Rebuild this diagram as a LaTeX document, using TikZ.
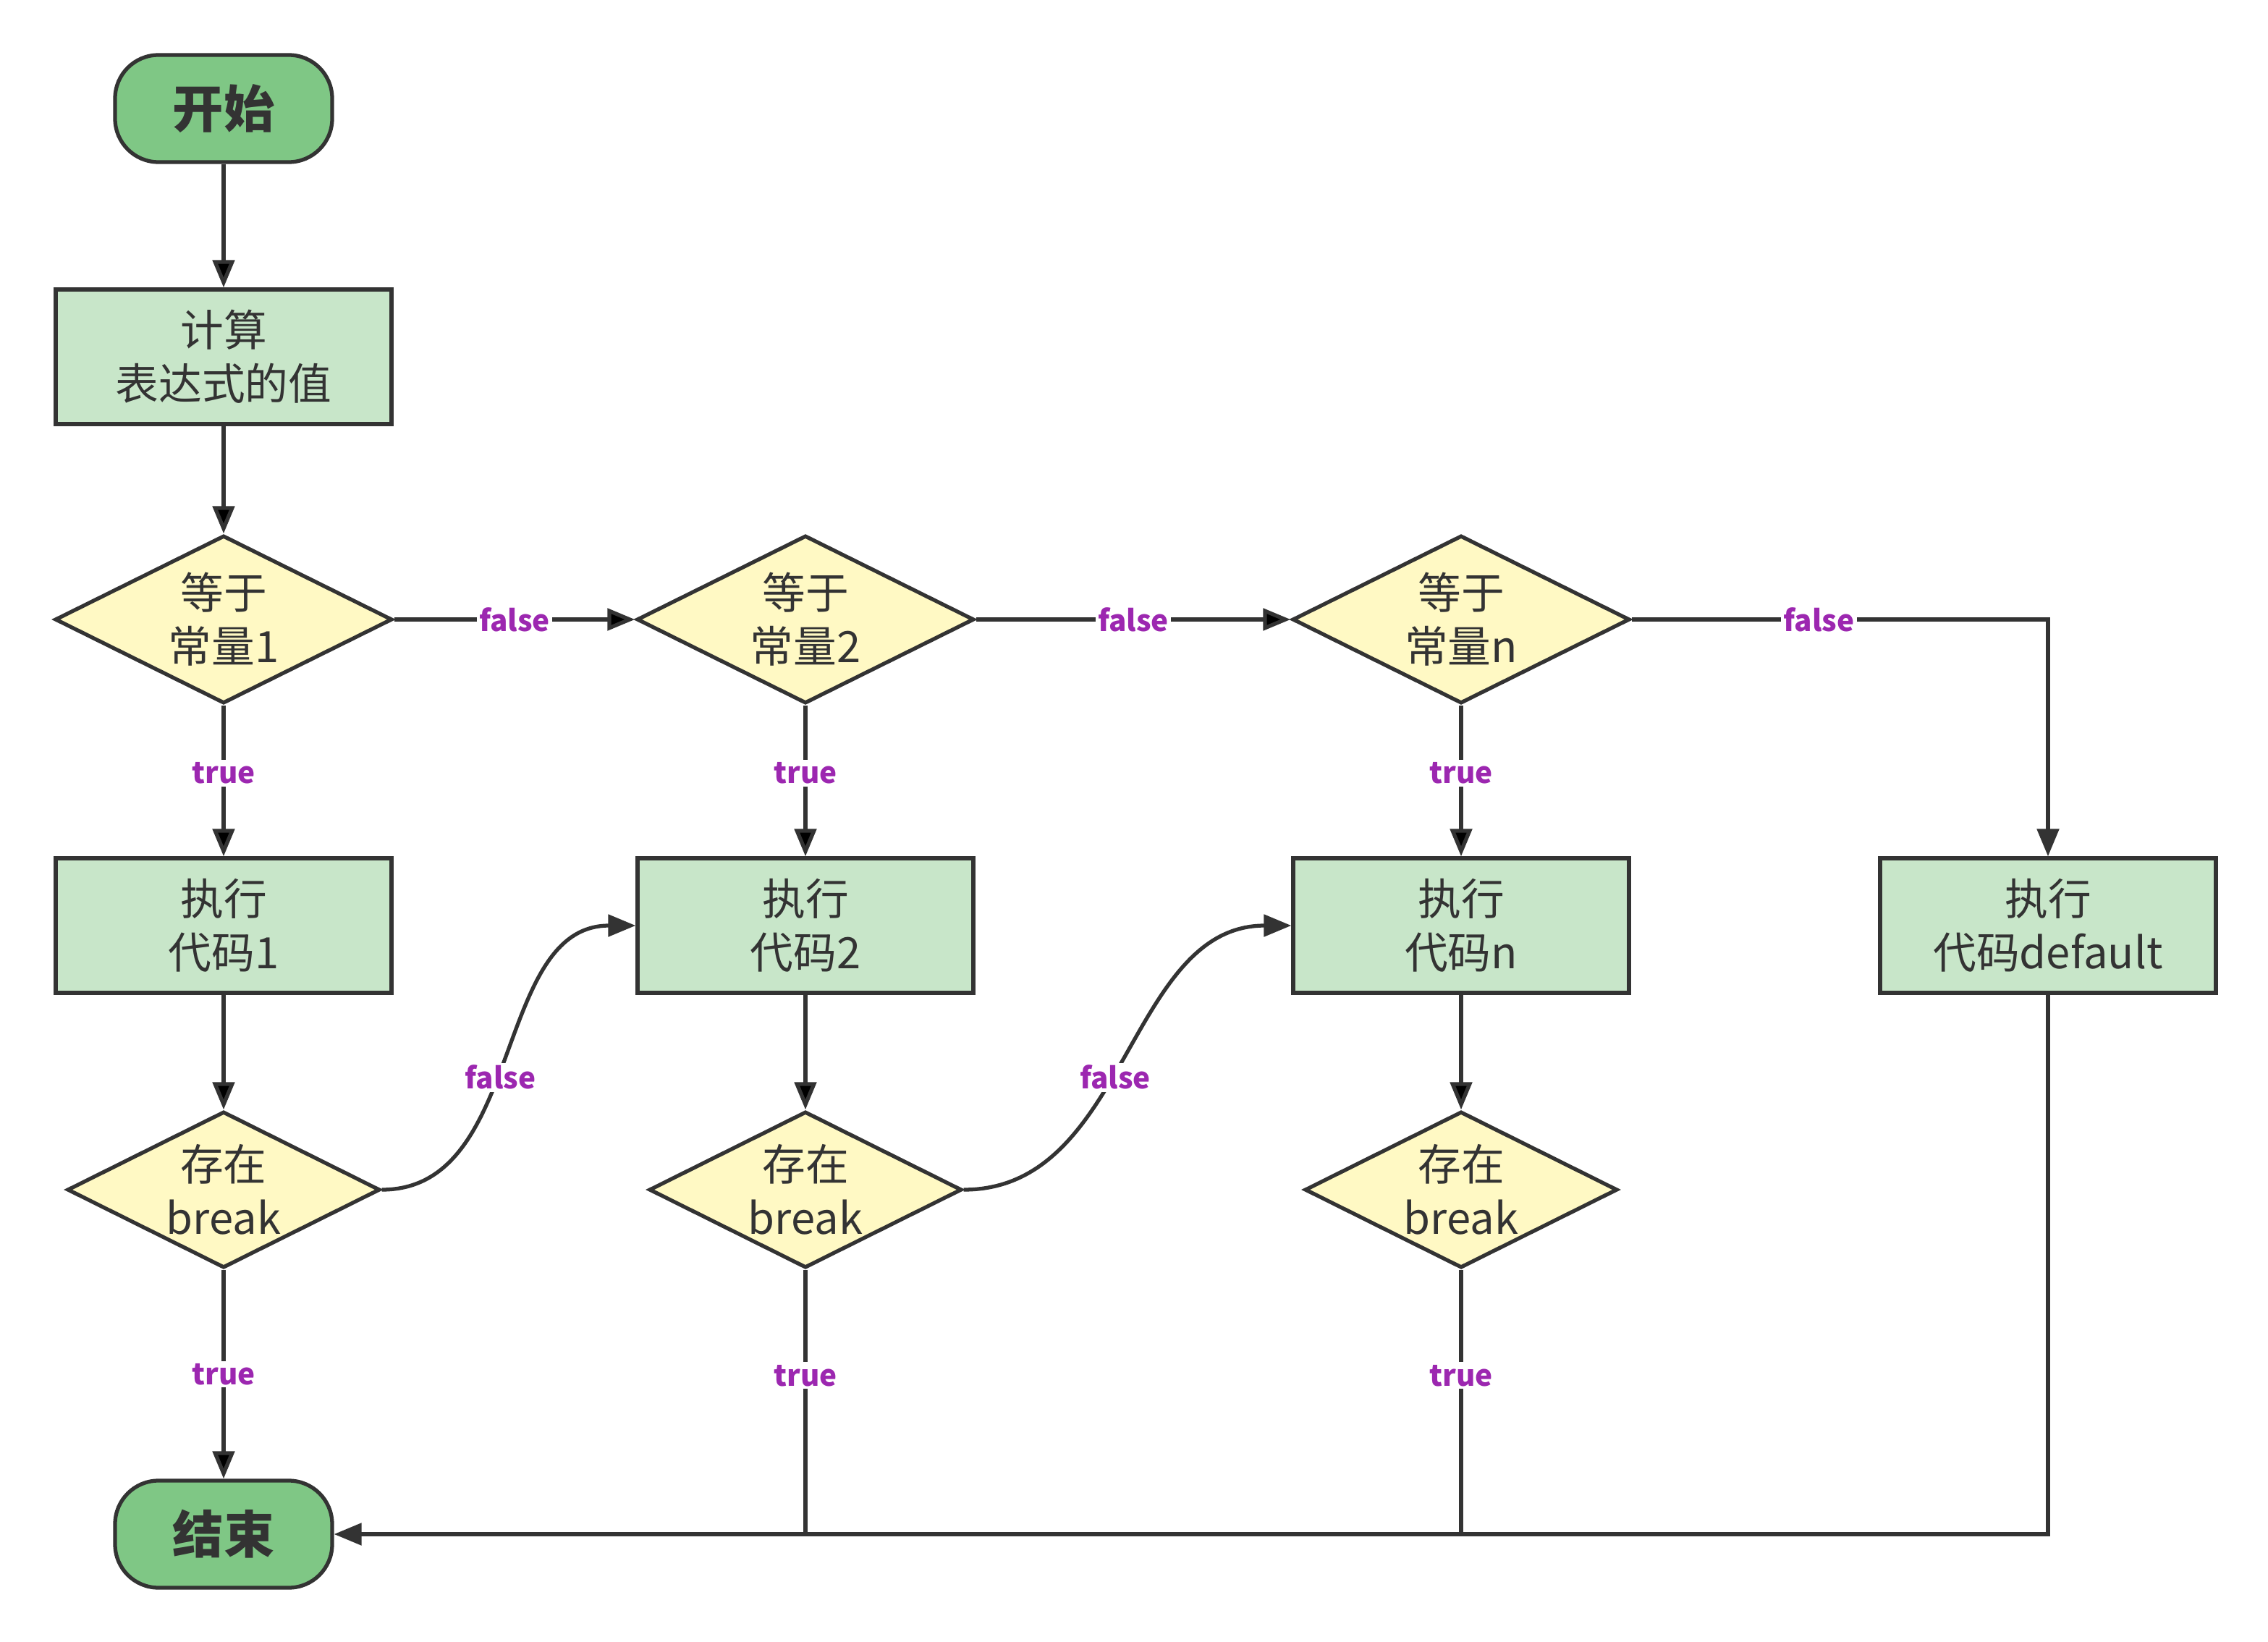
\documentclass[tikz,border=0pt]{standalone}
\usepackage{fontspec}
\setmainfont{Noto Sans CJK SC}
\usetikzlibrary{shapes.geometric,arrows.meta}
\definecolor{linegray}{HTML}{333333}
\definecolor{startgreen}{HTML}{7FC785}
\definecolor{procgreen}{HTML}{C8E6C9}
\definecolor{decyellow}{HTML}{FFF9C4}
\definecolor{lblpurple}{HTML}{9C27B0}
\tikzset{
	every node/.style={text=linegray},
	startstop/.style={draw=linegray,line width=1.5pt,fill=startgreen,rounded corners=0.6cm,minimum width=3cm,minimum height=1.48cm,font=\fontsize{20}{24}\selectfont\bfseries},
	process/.style={draw=linegray,line width=1.5pt,fill=procgreen,minimum width=4.64cm,minimum height=1.86cm,align=center,font=\fontsize{17}{21}\selectfont},
	decision/.style={diamond,aspect=2,draw=linegray,line width=1.5pt,fill=decyellow,inner sep=0pt,minimum width=4.66cm,minimum height=2.32cm,align=center,font=\fontsize{17}{21}\selectfont},
	hasbreak/.style={decision,minimum width=4.32cm,minimum height=2.16cm},
	lbl/.style={fill=white,text=lblpurple,inner sep=1pt,font=\fontsize{11.5}{13}\selectfont\bfseries},
	flow/.style={draw=linegray,line width=1.5pt,-{Triangle[length=0.38cm,width=0.3cm]}},
	plain/.style={draw=linegray,line width=1.5pt}
}
\begin{document}
\begin{tikzpicture}
		\useasboundingbox (0,0) rectangle (31.34,-22.69);
		\node[startstop] (start) at (3.09,-1.50) {开始};
		\node[process] (calc) at (3.09,-4.93) {计算\\表达式的值};
		\node[decision] (eq1) at (3.09,-8.56) {等于\\常量1};
		\node[decision] (eq2) at (11.13,-8.56) {等于\\常量2};
		\node[decision] (eqn) at (20.19,-8.56) {等于\\常量n};
		\node[process] (run1) at (3.09,-12.79) {执行\\代码1};
		\node[process] (run2) at (11.13,-12.79) {执行\\代码2};
		\node[process] (runn) at (20.19,-12.79) {执行\\代码n};
		\node[process] (rundef) at (28.30,-12.79) {执行\\代码default};
		\node[hasbreak] (brk1) at (3.09,-16.44) {存在\\break};
		\node[hasbreak] (brk2) at (11.13,-16.44) {存在\\break};
		\node[hasbreak] (brkn) at (20.19,-16.44) {存在\\break};
		\node[startstop] (end) at (3.09,-21.20) {结束};
		\path[flow] (start) edge (calc);
		\path[flow] (calc) edge (eq1);
		\path[flow] (eq1) edge node[lbl] {false} (eq2);
		\path[flow] (eq2) edge node[lbl] {false} (eqn);
		\draw[flow] (eqn) -| node[lbl,pos=0.225] {false} (rundef);
		\path[flow] (eq1) edge node[lbl,pos=0.45] {true} (run1);
		\path[flow] (eq2) edge node[lbl,pos=0.45] {true} (run2);
		\path[flow] (eqn) edge node[lbl,pos=0.45] {true} (runn);
		\path[flow] (run1) edge (brk1);
		\path[flow] (run2) edge (brk2);
		\path[flow] (runn) edge (brkn);
		\draw[flow] (brk1.east) to[out=0,in=180] node[lbl,pos=0.45] {false} (run2.west);
		\draw[flow] (brk2.east) to[out=0,in=180] node[lbl,pos=0.45] {false} (runn.west);
		\path[flow] (brk1) edge node[lbl] {true} (end);
		\draw[plain] (brk2) -- node[lbl,pos=0.4] {true} (brk2 |- end);
		\draw[plain] (brkn) -- node[lbl,pos=0.4] {true} (brkn |- end);
		\draw[flow] (rundef) |- (end);
	\end{tikzpicture}
\end{document}
